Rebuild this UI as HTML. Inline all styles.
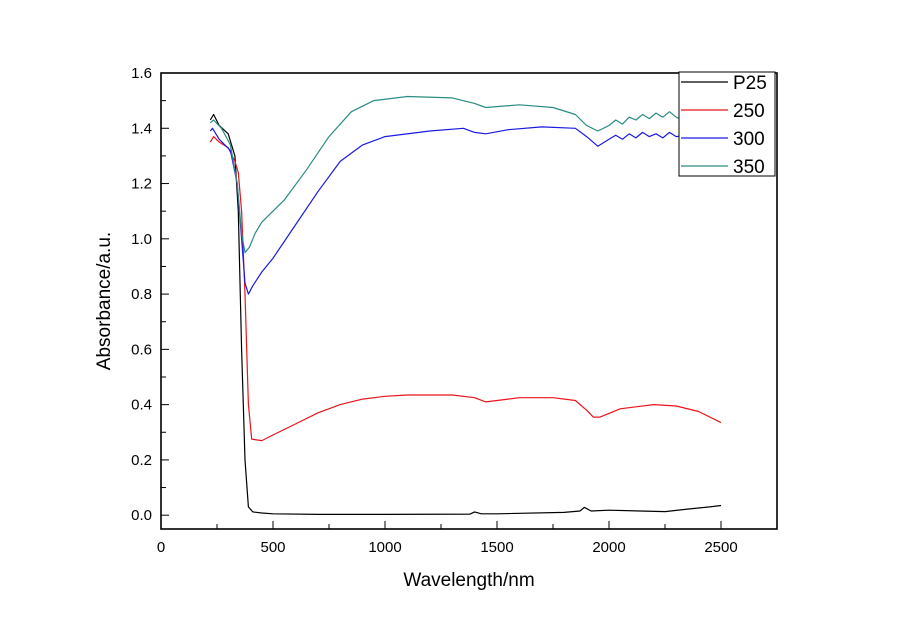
<!DOCTYPE html>
<html><head><meta charset="utf-8"><style>
body{margin:0;background:#fff;}
svg text{font-family:"Liberation Sans",Arial,sans-serif;}
</style></head><body>
<svg id="chart" width="900" height="635">
<g id="plot"></g>
</svg>
<script>
const xTicks=[0,500,1000,1500,2000,2500];
const yTicks=[0.0,0.2,0.4,0.6,0.8,1.0,1.2,1.4,1.6];
const seriesNames=["P25","250","300","350"];
const seriesColors=["#000000","#e8141c","#1a1ae0","#2a8c84"];
const p25X=[220,235,260,300,330,345,360,375,390,410,450,500,700,1000,1380,1400,1430,1500,1800,1870,1890,1920,2000,2250,2350,2450,2500];
const p25Y=[1.43,1.45,1.41,1.38,1.3,1.1,0.6,0.2,0.03,0.012,0.008,0.005,0.003,0.003,0.004,0.012,0.005,0.005,0.01,0.015,0.028,0.015,0.018,0.013,0.022,0.03,0.035];
const r250X=[220,235,260,300,330,345,360,375,390,405,450,500,600,700,800,900,1000,1100,1300,1400,1450,1500,1600,1750,1850,1900,1930,1960,2050,2200,2300,2400,2500];
const r250Y=[1.35,1.37,1.35,1.33,1.28,1.24,1.1,0.8,0.4,0.275,0.27,0.29,0.33,0.37,0.40,0.42,0.43,0.435,0.435,0.425,0.41,0.415,0.425,0.425,0.415,0.38,0.355,0.355,0.385,0.40,0.395,0.375,0.335];
const b300X=[220,230,260,310,340,360,375,390,410,450,500,600,700,800,900,1000,1200,1350,1400,1450,1550,1700,1850,1900,1950,2000,2030,2060,2090,2120,2150,2180,2210,2240,2270,2300,2350,2400,2450,2500];
const b300Y=[1.39,1.40,1.36,1.32,1.2,1.0,0.84,0.80,0.83,0.88,0.93,1.05,1.17,1.28,1.34,1.37,1.39,1.40,1.385,1.38,1.395,1.405,1.40,1.37,1.335,1.36,1.375,1.36,1.38,1.365,1.385,1.37,1.38,1.365,1.385,1.37,1.375,1.37,1.375,1.37];
const t350X=[220,235,270,310,340,360,375,395,420,450,550,650,750,850,950,1100,1300,1400,1450,1600,1750,1850,1900,1950,2000,2030,2060,2090,2120,2150,2180,2210,2240,2270,2300,2330,2400,2450,2500];
const t350Y=[1.42,1.43,1.40,1.34,1.2,1.02,0.95,0.97,1.02,1.06,1.14,1.25,1.37,1.46,1.50,1.515,1.51,1.49,1.475,1.485,1.475,1.45,1.41,1.39,1.41,1.43,1.415,1.44,1.43,1.45,1.435,1.455,1.44,1.46,1.44,1.43,1.44,1.435,1.44];
const allX=[p25X,r250X,b300X,t350X], allY=[p25Y,r250Y,b300Y,t350Y];

const L=161,R=777,T=73,B=529,xMin=0,xMax=2750,yMin=-0.05,yMax=1.6;
const sx=v=>L+(v-xMin)/(xMax-xMin)*(R-L);
const sy=v=>B-(v-yMin)/(yMax-yMin)*(B-T);
const NS="http://www.w3.org/2000/svg";
const g=document.getElementById('plot');
function mk(t,a){const e=document.createElementNS(NS,t);for(const k in a)e.setAttribute(k,a[k]);g.appendChild(e);return e;}

for(let s=0;s<4;s++){
 const d=allX[s].map((x,i)=>(i?'L':'M')+sx(x).toFixed(1)+','+sy(allY[s][i]).toFixed(1)).join(' ');
 const p=mk('path',{d:d,fill:'none',stroke:seriesColors[s],'stroke-width':1.2,'stroke-linejoin':'round'});
 
 
}
const f=mk('rect',{x:L,y:T,width:R-L,height:B-T,fill:'none',stroke:'#000','stroke-width':1.6});


for(let v=0;v<=2750;v+=250){
 const major=v%500===0;
 mk('line',{x1:sx(v),x2:sx(v),y1:B,y2:B-(major?8:5),stroke:'#000','stroke-width':1});
}
xTicks.forEach(v=>{const t=mk('text',{x:sx(v),y:B+23,'text-anchor':'middle','font-size':15});t.textContent=v;
 
 });
for(let k=0;k<=16;k++){const v=k/10;const major=k%2===0;
 mk('line',{x1:L,x2:L+(major?8:5),y1:sy(v),y2:sy(v),stroke:'#000','stroke-width':1});}
yTicks.forEach(v=>{const t=mk('text',{x:L-9,y:sy(v)+5,'text-anchor':'end','font-size':15});t.textContent=v.toFixed(1);
 
 });
const xt=mk('text',{x:469,y:586,'text-anchor':'middle','font-size':19});xt.textContent='Wavelength/nm';


const yt=mk('text',{x:0,y:0,'text-anchor':'middle','font-size':19,transform:'translate(110,301) rotate(-90)'});yt.textContent='Absorbance/a.u.';


const lg=mk('rect',{x:679,y:72,width:96,height:104,fill:'#fff',stroke:'#000','stroke-width':1});


const ly=[82,110,138,166];
for(let s=0;s<4;s++){
 mk('line',{x1:681,x2:728,y1:ly[s],y2:ly[s],stroke:seriesColors[s],'stroke-width':1.2});
 const t=mk('text',{x:733,y:ly[s]+7,'font-size':19});t.textContent=seriesNames[s];
 
 
}
</script>
</body></html>
